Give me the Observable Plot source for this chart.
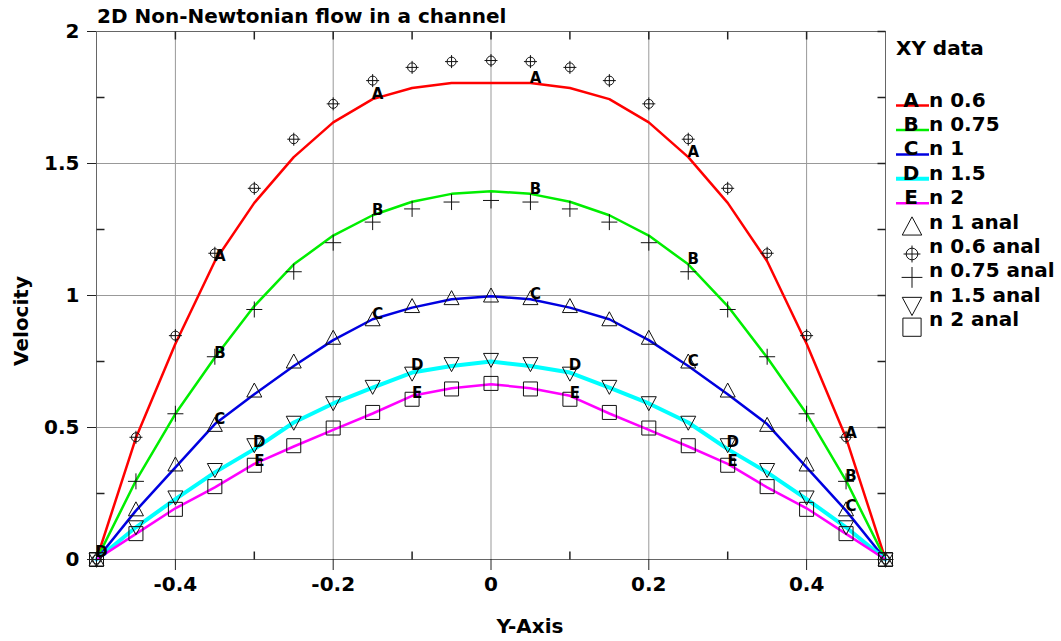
<!DOCTYPE html>
<html><head><meta charset="utf-8">
<script src="https://cdn.jsdelivr.net/npm/d3@7"></script>
<script src="https://cdn.jsdelivr.net/npm/@observablehq/plot@0.6"></script>
<style>
body{margin:0;background:#fff;}
#wrap{position:relative;width:1061px;height:641px;background:#fff;}
</style></head><body><div id="wrap"></div>
<script>
// ---- data ----
const yPos = [-0.5,-0.45,-0.4,-0.35,-0.3,-0.25,-0.2,-0.15,-0.1,-0.05,0,0.05,0.1,0.15,0.2,0.25,0.3,0.35,0.4,0.45,0.5];
const numA = [0,0.461,0.817,1.130,1.351,1.524,1.656,1.744,1.786,1.805,1.805,1.805,1.786,1.744,1.656,1.524,1.351,1.130,0.817,0.461,0];
const numB = [0,0.299,0.552,0.765,0.960,1.118,1.227,1.304,1.355,1.385,1.395,1.385,1.355,1.304,1.227,1.118,0.960,0.765,0.552,0.299,0];
const numC = [0,0.185,0.349,0.513,0.626,0.733,0.831,0.910,0.954,0.986,0.997,0.986,0.954,0.910,0.831,0.733,0.626,0.513,0.349,0.185,0];
const numD = [0,0.122,0.229,0.330,0.418,0.519,0.591,0.651,0.708,0.733,0.750,0.733,0.708,0.651,0.591,0.519,0.418,0.330,0.229,0.122,0];
const numE = [0,0.097,0.194,0.273,0.362,0.428,0.491,0.553,0.620,0.649,0.664,0.649,0.620,0.553,0.491,0.428,0.362,0.273,0.194,0.097,0];
const anal1   = [0,0.19,0.36,0.51,0.64,0.75,0.84,0.91,0.96,0.99,1.0,0.99,0.96,0.91,0.84,0.75,0.64,0.51,0.36,0.19,0];
const anal06  = [0,0.463,0.848,1.160,1.406,1.592,1.726,1.814,1.864,1.886,1.890,1.886,1.864,1.814,1.726,1.592,1.406,1.160,0.848,0.463,0];
const anal075 = [0,0.296,0.552,0.768,0.947,1.090,1.200,1.278,1.328,1.354,1.360,1.354,1.328,1.278,1.200,1.090,0.947,0.768,0.552,0.296,0];
const anal15  = [0,0.122,0.235,0.339,0.433,0.518,0.592,0.654,0.704,0.740,0.756,0.740,0.704,0.654,0.592,0.518,0.433,0.339,0.235,0.122,0];
const anal2   = [0,0.098,0.190,0.276,0.357,0.431,0.498,0.557,0.607,0.646,0.667,0.646,0.607,0.557,0.498,0.431,0.357,0.276,0.190,0.098,0];
const lineKeys = ["A","B","C","D","E"];
const lineNames = ["n 0.6","n 0.75","n 1","n 1.5","n 2"];
const markerNames = ["n 1 anal","n 0.6 anal","n 0.75 anal","n 1.5 anal","n 2 anal"];
const labelIdx = [[3,7,11,15,19],[3,7,11,15,19],[3,7,11,15,19],[0,4,8,12,16],[4,8,12,16]];
const majorX = [-0.4,-0.2,0,0.2,0.4];
const minorX = [-0.3,-0.1,0.1,0.3];
const majorY = [0,0.5,1,1.5,2];
const minorY = [0.25,0.75,1.25,1.75];
const gridY = [0.5,1,1.5];
const titleText = "2D Non-Newtonian flow in a channel";
const xLabel = "Y-Axis", yLabel = "Velocity", legendTitle = "XY data";

// ---- styles ----
const W = 1061, H = 641;
const colors = ["#ff0000","#00ee00","#0000e0","#00ffff","#ff00ff"];
const widths = [2.5,2.5,2.5,4,2.5];
const labelDy = [0,0,0,-2.5,2.5];
const nums = [numA,numB,numC,numD,numE];
const sym = f => ({draw(c){ f(c); }});
const triUp = sym(c=>{c.moveTo(0,-7.5);c.lineTo(7.5,6.5);c.lineTo(-7.5,6.5);c.closePath();});
const triDown = sym(c=>{c.moveTo(0,7.5);c.lineTo(7.5,-6.5);c.lineTo(-7.5,-6.5);c.closePath();});
const square = sym(c=>{c.moveTo(-7,-7);c.lineTo(7,-7);c.lineTo(7,7);c.lineTo(-7,7);c.closePath();});
const circPlus = sym(c=>{c.moveTo(4.5,0);c.arc(0,0,4.5,0,2*Math.PI);c.moveTo(-6.5,0);c.lineTo(6.5,0);c.moveTo(0,-6.5);c.lineTo(0,6.5);});
const plus = sym(c=>{c.moveTo(-8,0);c.lineTo(8,0);c.moveTo(0,-8);c.lineTo(0,8);});
const tUp = sym(c=>{c.moveTo(0,0);c.lineTo(0,-8);});
const tDown = sym(c=>{c.moveTo(0,0);c.lineTo(0,8);});
const tRight = sym(c=>{c.moveTo(0,0);c.lineTo(8,0);});
const tLeft = sym(c=>{c.moveTo(0,0);c.lineTo(-8,0);});
const markerSyms = [triUp,circPlus,plus,triDown,square];
const anals = [anal1,anal06,anal075,anal15,anal2];
const tickColor = "#222";

const marks = [
  Plot.gridX(majorX, {stroke:"#999", strokeOpacity:1}),
  Plot.gridY(gridY, {stroke:"#999", strokeOpacity:1}),
  Plot.frame({stroke:"#666"}),
];
nums.forEach((arr,k) => {
  marks.push(Plot.line(yPos, {x: d=>d, y: (d,i)=>arr[i], stroke: colors[k], strokeWidth: widths[k], strokeLinejoin:"round"}));
});
anals.forEach((arr,k) => {
  marks.push(Plot.dot(yPos, {x: d=>d, y: (d,i)=>arr[i], symbol: markerSyms[k], stroke:"#111", fill:"none", strokeWidth:1}));
});
nums.forEach((arr,k) => {
  marks.push(Plot.text(labelIdx[k], {x: i=>yPos[i], y: i=>arr[i], text: ()=>lineKeys[k], dx:5, dy: labelDy[k], lineAnchor:"bottom", fontSize:15, fontWeight:"bold", fill:"#000"}));
});
// inner ticks
marks.push(
  Plot.dot(minorX, {x:d=>d, y:()=>0, symbol:tUp, stroke:tickColor, fill:"none"}),
  Plot.dot(majorX.concat(minorX), {x:d=>d, y:()=>2, symbol:tDown, stroke:tickColor, fill:"none"}),
  Plot.dot(minorY, {x:()=>-0.5, y:d=>d, symbol:tRight, stroke:tickColor, fill:"none"}),
  Plot.dot(majorY.concat(minorY), {x:()=>0.5, y:d=>d, symbol:tLeft, stroke:tickColor, fill:"none"}),
  Plot.axisX(majorX, {tickSize:11, tickPadding:6, tickFormat:d=>String(d), stroke:tickColor, fill:"#000", fontSize:20, fontWeight:"bold", label:null}),
  Plot.axisY(majorY, {tickSize:9, tickPadding:8, tickFormat:d=>String(d), stroke:tickColor, fill:"#000", fontSize:20, fontWeight:"bold", label:null})
);

const chart = Plot.plot({
  width: W, height: H,
  marginLeft: 96, marginRight: 176, marginTop: 31, marginBottom: 82,
  x: {domain: [-0.5, 0.5]},
  y: {domain: [0, 2]},
  style: {fontFamily: "DejaVu Sans", background: "white", overflow: "visible"},
  marks
});
const wrap = document.getElementById("wrap");
wrap.appendChild(chart);

// ---- overlay: title, axis labels, legend ----
const ov = d3.select(wrap).append("svg")
  .attr("width", W).attr("height", H)
  .style("position","absolute").style("left","0px").style("top","0px")
  .style("font-family","DejaVu Sans").style("font-weight","bold").style("font-size","20px");
ov.append("text").attr("x",97).attr("y",22.5).text(titleText);
ov.append("text").attr("x",530).attr("y",633).attr("text-anchor","middle").text(xLabel);
ov.append("text").attr("transform","translate(28,321) rotate(-90)").attr("text-anchor","middle").text(yLabel);
ov.append("text").attr("x",896).attr("y",55).text(legendTitle);
const base0 = 106.6, step = 24.4;
lineKeys.forEach((key,k) => {
  const b = base0 + step*k;
  ov.append("line").attr("x1",896).attr("x2",929).attr("y1",b-1).attr("y2",b-1)
    .attr("stroke",colors[k]).attr("stroke-width",widths[k]);
  ov.append("text").attr("x",911).attr("y",b).attr("text-anchor","middle").text(key);
  ov.append("text").attr("x",929).attr("y",b).text(lineNames[k]);
});
const symOffsets = [-2,1,0,4,1];
markerNames.forEach((name,k) => {
  const b = base0 + step*(k+5);
  const p = d3.path(); markerSyms[k].draw(p);
  ov.append("path").attr("d",p.toString())
    .attr("transform",`translate(912,${b+symOffsets[k]}) scale(1.3)`)
    .attr("fill","none").attr("stroke","#111").attr("stroke-width",1/1.3);
  ov.append("text").attr("x",929).attr("y",b).text(name);
});
</script>
</body></html>
